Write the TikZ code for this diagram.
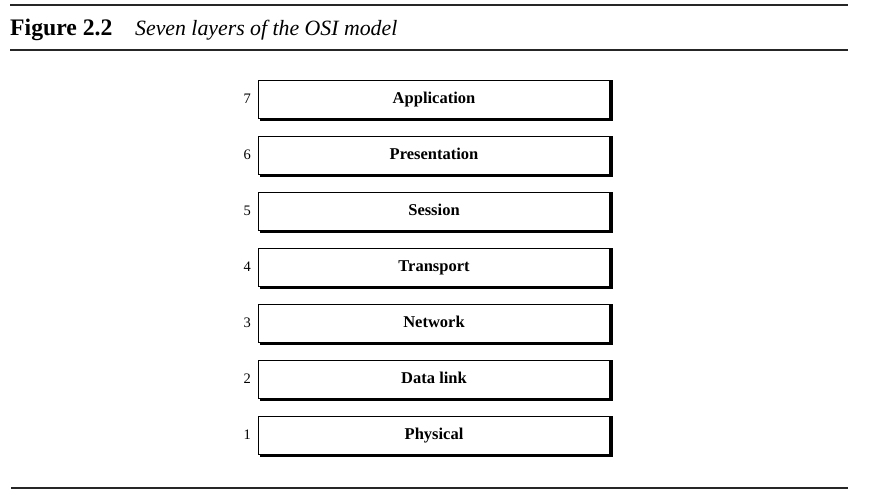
\documentclass[tikz,border=0pt]{standalone}
\usepackage{fontspec}
\setmainfont{Liberation Serif}
\begin{document}
\begin{tikzpicture}[x=1pt,y=-1pt,
  rulex/.style={line width=1.8pt,black!85},
  layerbox/.style={draw,line width=1pt,minimum width=351pt,minimum height=38pt,inner sep=0pt,
    text height=9pt,text depth=0pt,
    font=\fontsize{16.5}{19}\selectfont\bfseries},
  shadowline/.style={line width=2.6pt},
  numlabel/.style={font=\fontsize{14.5}{16}\selectfont,anchor=east,inner sep=0pt}]
\useasboundingbox (0,0) rectangle (886,495);
% rules
\coordinate (t1) at (10,5);
\coordinate (t2) at (848,5);
\coordinate (h1) at (10,50);
\coordinate (h2) at (848,50);
\coordinate (b1) at (11,488);
\coordinate (b2) at (848,488);
\draw[rulex] (t1) -- (t2);
\draw[rulex] (h1) -- (h2);
\draw[rulex] (b1) -- (b2);
\node[anchor=base west,inner sep=0pt] (title) at (10,36)
  {\fontsize{23.7}{26}\selectfont\bfseries Figure 2.2};
\node[anchor=base west,inner sep=0pt] (caption) at (135,36)
  {\fontsize{21.8}{26}\selectfont\itshape Seven layers of the OSI model};
% layers
\foreach \n/\t [count=\i from 0] in {7/Application,6/Presentation,5/Session,4/Transport,3/Network,2/Data link,1/Physical}{
  \node[layerbox] (l\n) at (434,{99+56*\i}) {\t};
  \draw[shadowline] ([xshift=1.3pt,yshift=-0.5pt]l\n.north east) -- ([xshift=1.3pt,yshift=-1.3pt]l\n.south east) -- ([xshift=2pt,yshift=-1.3pt]l\n.south west);
  \node[numlabel] (n\n) at ([xshift=-7pt]l\n.west) {\n};
}
\end{tikzpicture}
\end{document}
